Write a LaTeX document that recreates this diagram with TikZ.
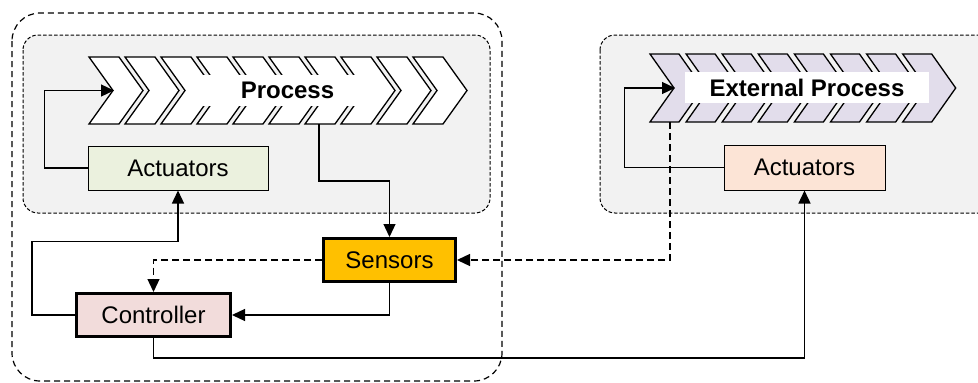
\documentclass[tikz,border=0pt]{standalone}
\usepackage{fontspec}
\setmainfont{Liberation Sans}
\usetikzlibrary{arrows.meta}
\definecolor{groupfill}{HTML}{F2F2F2}
\definecolor{actgreen}{HTML}{EBF1DE}
\definecolor{actpeach}{HTML}{FCE4D6}
\definecolor{sensgold}{HTML}{FFC000}
\definecolor{ctrlpink}{HTML}{F2DCDB}
\definecolor{extlav}{HTML}{E2DDEB}
\tikzset{
  every node/.style={font=\fontsize{24}{28}\selectfont, inner sep=0pt},
  thinbox/.style={draw=black, line width=1pt, rectangle},
  thickbox/.style={draw=black, line width=3pt, rectangle},
  chev/.style={draw=black, line width=1.3pt, line join=miter},
  lbl/.style={fill=white, font=\fontsize{24}{28}\selectfont\bfseries},
  arr/.style={draw=black, line width=1.3pt, -{Triangle[length=13pt,width=12pt]}},
  darr/.style={arr, dash pattern=on 7pt off 4pt},
  outergroup/.style={draw=black, line width=1.2pt, dash pattern=on 6pt off 4pt, rounded corners=28pt},
  innergroup/.style={draw=black, fill=groupfill, line width=1pt, dash pattern=on 3.5pt off 2pt, rounded corners=15pt},
}
\begin{document}
\begin{tikzpicture}[x=1pt, y=-1pt]
\useasboundingbox (0,0) rectangle (978,383);
\begin{scope}
\clip (0,0) rectangle (978,383);

% group frames
\draw[outergroup] (12,13) rectangle (502,381);
\draw[innergroup] (23,35) rectangle (490,213);
\draw[innergroup] (600,35) rectangle (995,213);

% process chevrons
\foreach \i in {0,...,9}
  \draw[chev, fill=white] ({89+36*\i},57) -- ++(30,0) -- ++(24,33.5) -- ++(-24,33.5)
    -- ++(-30,0) -- ++(24,-33.5) -- cycle;
\node[lbl, minimum width=191pt, minimum height=31pt] (proc) at (287.5,90.5) {Process};

% external process chevrons
\foreach \i in {0,...,7}
  \draw[chev, fill=extlav] ({650+36.1*\i},54) -- ++(29,0) -- ++(24,34) -- ++(-24,34)
    -- ++(-29,0) -- ++(24,-34) -- cycle;
\node[lbl, minimum width=244pt, minimum height=31pt] (extproc) at (807,87.5) {External Process};

\coordinate (procin) at (114,90.5);
\coordinate (procout) at (319,124);
\coordinate (extin) at (675,88);
\coordinate (extout) at (670,122);

% blocks
\node[thinbox, fill=actgreen, minimum width=180pt, minimum height=44pt] (act1) at (178,168) {Actuators};
\node[thinbox, fill=actpeach, minimum width=161pt, minimum height=45pt] (act2) at (804.5,167.5) {Actuators};
\node[thickbox, fill=sensgold, minimum width=132pt, minimum height=43pt] (sens) at (389.5,260) {Sensors};
\node[thickbox, fill=ctrlpink, minimum width=154pt, minimum height=43pt] (ctrl) at (153.5,315) {Controller};

% connectors
\draw[arr] (act1.west) -- ++(-43,0) |- (procin);
\draw[arr] (procout) -- ++(0,57) -| (sens.north);
\draw[arr] (sens.south) |- (ctrl.east);
\draw[arr] (ctrl.west) -- ++(-43,0) |- ([yshift=-51pt]act1.south) -- (act1.south);
\draw[darr] (sens.west) -| (ctrl.north);
\draw[darr] (extout) |- (sens.east);
\draw[arr] (ctrl.south) -- ++(0,20) -| (act2.south);
\draw[arr] (act2.west) -- ++(-99,0) |- (extin);
\end{scope}
\end{tikzpicture}
\end{document}
